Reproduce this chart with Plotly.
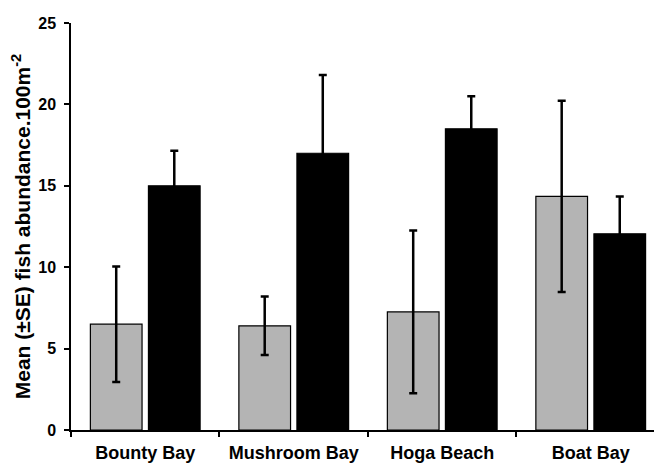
import plotly.graph_objects as go

sites = ["Bounty Bay", "Mushroom Bay", "Hoga Beach", "Boat Bay"]
gray_vals = [6.5, 6.4, 7.25, 14.35]
gray_se = [3.55, 1.8, 5.0, 5.87]
black_vals = [15.0, 17.0, 18.5, 12.05]
black_se = [2.15, 4.8, 2.0, 2.3]
y_ticks = [0, 5, 10, 15, 20, 25]

font = "Liberation Sans, Arial, sans-serif"

fig = go.Figure()
fig.add_trace(go.Bar(
    x=sites, y=gray_vals, name="Series 1",
    marker=dict(color="#b4b4b4", line=dict(color="black", width=1.2)),
    error_y=dict(type="data", array=gray_se, visible=True, color="black",
                 thickness=2.5, width=4),
))
fig.add_trace(go.Bar(
    x=sites, y=black_vals, name="Series 2",
    marker=dict(color="black", line=dict(color="black", width=1.2)),
    error_y=dict(type="data", array=black_se, visible=True, color="black",
                 thickness=2.5, width=4),
))

# page body adds an 8px offset, so the figure is sized/margined to compensate
fig.update_layout(
    width=654, height=455,
    margin=dict(l=63, r=0, t=15, b=33),
    paper_bgcolor="white", plot_bgcolor="white",
    barmode="group", bargap=0.218, bargroupgap=0.11,
    showlegend=False,
    font=dict(family=font, color="black"),
)
fig.update_xaxes(
    range=[-0.5, 3.48], automargin=False,
    showline=True, linecolor="black", linewidth=1.5,
    ticks="outside", tickson="boundaries", ticklen=5, tickwidth=1.5, tickcolor="black",
    tickfont=dict(size=18, family=font, color="black", weight="bold"),
    ticklabelstandoff=6,
    showgrid=False, zeroline=False,
)
fig.update_yaxes(
    range=[0, 25], tickvals=y_ticks, automargin=False,
    showline=True, linecolor="black", linewidth=1.5,
    ticks="outside", ticklen=5, tickwidth=1.5, tickcolor="black",
    tickfont=dict(size=16, family=font, color="black", weight="bold"),
    ticklabelstandoff=5,
    showgrid=False, zeroline=False,
    title=dict(text="<b>Mean (±SE) fish abundance.100m<sup>-2</sup></b>",
               font=dict(size=21, family=font, color="black"), standoff=10),
)

fig.write_html("out.html")
